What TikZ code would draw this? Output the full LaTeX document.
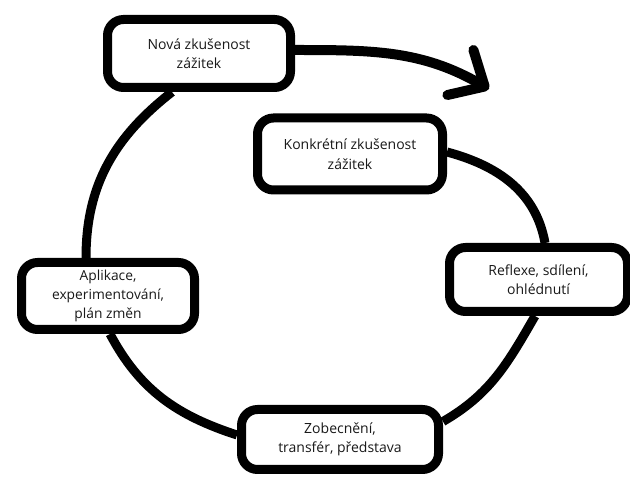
\documentclass[tikz,border=0pt]{standalone}
\usepackage{fontspec}
\setmainfont{Open Sans}
\usetikzlibrary{arrows.meta,calc,backgrounds}
\begin{document}
\begin{tikzpicture}[x=1pt,y=1pt,
  box/.style={draw=black, line width=9pt, rounded corners=16pt, fill=white,
    align=center, inner sep=0pt, text=black!90,
    font=\fontsize{14}{19.5}\selectfont},
  link/.style={draw=black, line width=9pt},
  flow/.style={draw=black, line width=10pt,
    -{Straight Barb[length=28pt, width=52pt, round]}}]
\useasboundingbox (0,0) rectangle (630,477);

\node[box, minimum width=183pt, minimum height=68pt] (nova) at (199,423.5)
  {Nová zkušenost\\zážitek};
\node[box, minimum width=185pt, minimum height=72pt] (konk) at (350,323)
  {Konkrétní zkušenost\\zážitek};
\node[box, minimum width=178pt, minimum height=64pt] (refl) at (538.5,197.5)
  {Reflexe, sdílení,\\ohlédnutí};
\node[box, minimum width=173pt, minimum height=67pt,
  font=\fontsize{13.8}{19}\selectfont] (apl) at (108,181)
  {Aplikace,\\experimentování,\\plán změn};
\node[box, minimum width=197pt, minimum height=60pt] (zob) at (340,37.5)
  {Zobecnění,\\transfér, představa};

\coordinate (tip) at (489,388);

\begin{scope}[on background layer]
  \draw[link] ($(nova.south)+(-27,0)$) to[out=218,in=90] ($(apl.north)+(-22,0)$);
  \draw[link] ($(apl.south)+(2,0)$) to[out=-62,in=162] ($(zob.west)+(0,4.5)$);
  \draw[link] ($(zob.east)+(0,18)$) to[out=30,in=240] ($(refl.south)+(-3.5,0)$);
  \draw[link] ($(konk.east)+(0,2)$) to[out=-15,in=100] ($(refl.north)+(6.5,0)$);
  \draw[flow] ($(nova.east)+(0,3.5)$) to[out=0,in=150] (tip);
\end{scope}
\end{tikzpicture}
\end{document}
